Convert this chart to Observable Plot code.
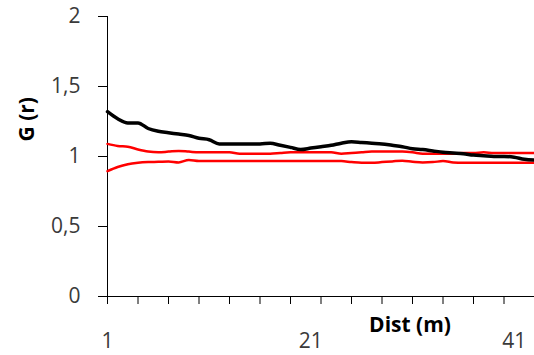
<!DOCTYPE html>
<html>
<head>
<meta charset="utf-8">
<script src="https://cdn.jsdelivr.net/npm/d3@7"></script>
<script src="https://cdn.jsdelivr.net/npm/@observablehq/plot@0.6"></script>
<style>
  html, body { margin: 0; padding: 0; background: #fff; }
  #chart svg { display: block; }
</style>
</head>
<body>
<div id="chart"></div>
<script>
const dist = [1,2,3,4,5,6,7,8,9,10,11,12,13,14,15,16,17,18,19,20,21,22,23,24,25,26,27,28,29,30,31,32,33,34,35,36,37,38,39,40,41,42,43];
const observed = [1.32,1.27,1.24,1.24,1.20,1.18,1.17,1.16,1.15,1.13,1.12,1.09,1.09,1.09,1.09,1.09,1.095,1.08,1.065,1.05,1.06,1.07,1.08,1.095,1.105,1.10,1.095,1.09,1.08,1.07,1.055,1.05,1.04,1.03,1.025,1.02,1.01,1.005,1.0,1.0,0.995,0.98,0.975];
const upper = [1.09,1.075,1.07,1.05,1.035,1.03,1.035,1.04,1.035,1.03,1.03,1.03,1.03,1.02,1.02,1.02,1.02,1.025,1.03,1.03,1.03,1.03,1.03,1.02,1.025,1.03,1.035,1.035,1.035,1.035,1.03,1.02,1.02,1.02,1.02,1.025,1.025,1.03,1.025,1.025,1.025,1.025,1.025];
const lower = [0.895,0.925,0.945,0.955,0.96,0.962,0.965,0.958,0.975,0.968,0.968,0.967,0.967,0.967,0.967,0.967,0.967,0.967,0.967,0.967,0.967,0.967,0.967,0.967,0.96,0.955,0.955,0.96,0.965,0.97,0.963,0.958,0.96,0.967,0.958,0.955,0.955,0.955,0.955,0.955,0.955,0.955,0.955];
const yTicks = [0, 0.5, 1, 1.5, 2];
const xTickMarks = [1,4,7,10,13,16,19,22,25,28,31,34,37,40];
const xTickLabels = [1, 21, 41];
const yLabel = "G (r)";
const xLabel = "Dist (m)";

const rows = dist.map((d, i) => ({d, obs: observed[i], up: upper[i], lo: lower[i]}));
const font = "'Open Sans', 'DejaVu Sans', sans-serif";

const chart = Plot.plot({
  width: 534,
  height: 355,
  marginLeft: 107,
  marginRight: 0,
  marginTop: 16,
  marginBottom: 59,
  style: {fontFamily: font, background: "#fff", overflow: "visible"},
  x: {type: "linear", domain: [1, 43]},
  y: {domain: [0, 2]},
  marks: [
    Plot.axisY({ticks: yTicks, tickSize: 9, tickPadding: 18, tickFormat: d => String(d).replace(".", ","), fontSize: 21, fill: "#3a3a3a", label: null, stroke: "#000"}),
    Plot.axisX({ticks: xTickMarks, tickSize: 8, tickFormat: () => "", label: null, stroke: "#000"}),
    Plot.axisX({ticks: xTickLabels, tickSize: 0, tickPadding: 37, fontSize: 21, fill: "#3a3a3a", label: null}),
    Plot.ruleX([1], {y1: 0, y2: 2, stroke: "#000", strokeWidth: 1}),
    Plot.ruleY([0], {stroke: "#000", strokeWidth: 1}),
    Plot.line(rows, {x: "d", y: "up", stroke: "#ff0000", strokeWidth: 2.5, curve: "monotone-x"}),
    Plot.line(rows, {x: "d", y: "lo", stroke: "#ff0000", strokeWidth: 2.5, curve: "monotone-x"}),
    Plot.line(rows, {x: "d", y: "obs", stroke: "#000", strokeWidth: 3.5, curve: "monotone-x"}),
    Plot.text([yLabel], {frameAnchor: "left", rotate: -90, dx: -80, dy: -15, fontSize: 21, fontWeight: "bold", fill: "#000"}),
    Plot.text([xLabel], {frameAnchor: "bottom", dx: 89, dy: 35, fontSize: 21, fontWeight: "bold", fill: "#000"})
  ]
});
document.getElementById("chart").appendChild(chart);
</script>
</body>
</html>
